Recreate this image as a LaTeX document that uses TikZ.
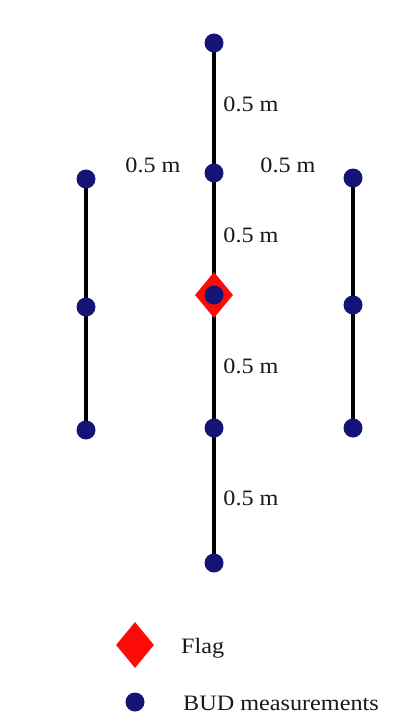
\documentclass[tikz,border=0pt]{standalone}
\usepackage{fontspec}
\setmainfont{Liberation Serif}[FakeStretch=1.1]
\usetikzlibrary{shapes.geometric}
\pgfdeclarelayer{background}
\pgfsetlayers{background,main}
\definecolor{budblue}{RGB}{20,20,120}
\definecolor{flagred}{RGB}{255,10,10}
\definecolor{txt}{RGB}{25,25,25}
\tikzset{
  bud/.style={circle,fill=budblue,draw=none,minimum size=19pt,inner sep=0pt},
  flagmark/.style={diamond,fill=flagred,draw=none,minimum width=38pt,minimum height=46pt,inner sep=0pt},
  rod/.style={line width=4pt,black},
  lbl/.style={text=txt,font=\fontsize{22pt}{24pt}\selectfont,inner sep=0pt}
}
\begin{document}
\begin{tikzpicture}[x=1pt,y=-1pt]
\useasboundingbox (0,0) rectangle (408,722);
% measurement points
\node[bud] (c1) at (214,43) {};
\node[bud] (c2) at (214,173) {};
\node[flagmark] (flag) at (214,295) {};
\node[bud] (c3) at (214,295) {};
\node[bud] (c4) at (214,428) {};
\node[bud] (c5) at (214,563) {};
\node[bud] (l1) at (86,179) {};
\node[bud] (l2) at (86,307) {};
\node[bud] (l3) at (86,430) {};
\node[bud] (r1) at (353,178) {};
\node[bud] (r2) at (353,305) {};
\node[bud] (r3) at (353,428) {};
% rods (behind the marks)
\begin{pgfonlayer}{background}
\draw[rod] (c1.center) -- (c2.center) -- (c3.center) -- (c4.center) -- (c5.center);
\draw[rod] (l1.center) -- (l2.center) -- (l3.center);
\draw[rod] (r1.center) -- (r2.center) -- (r3.center);
\end{pgfonlayer}
% labels
\node[lbl] (d1) at (251,104) {0.5 m};
\node[lbl] (d2) at (153,165) {0.5 m};
\node[lbl] (d3) at (288,165) {0.5 m};
\node[lbl] (d4) at (251,235) {0.5 m};
\node[lbl] (d5) at (251,366) {0.5 m};
\node[lbl] (d6) at (251,498) {0.5 m};
% legend
\node[flagmark] (legflag) at (135,645) {};
\node[lbl,anchor=west] (legflagtxt) at (181,648) {Flag};
\node[bud] (legbud) at (135,702) {};
\node[lbl,anchor=west] (legbudtxt) at (183,703) {BUD measurements};
\end{tikzpicture}
\end{document}
